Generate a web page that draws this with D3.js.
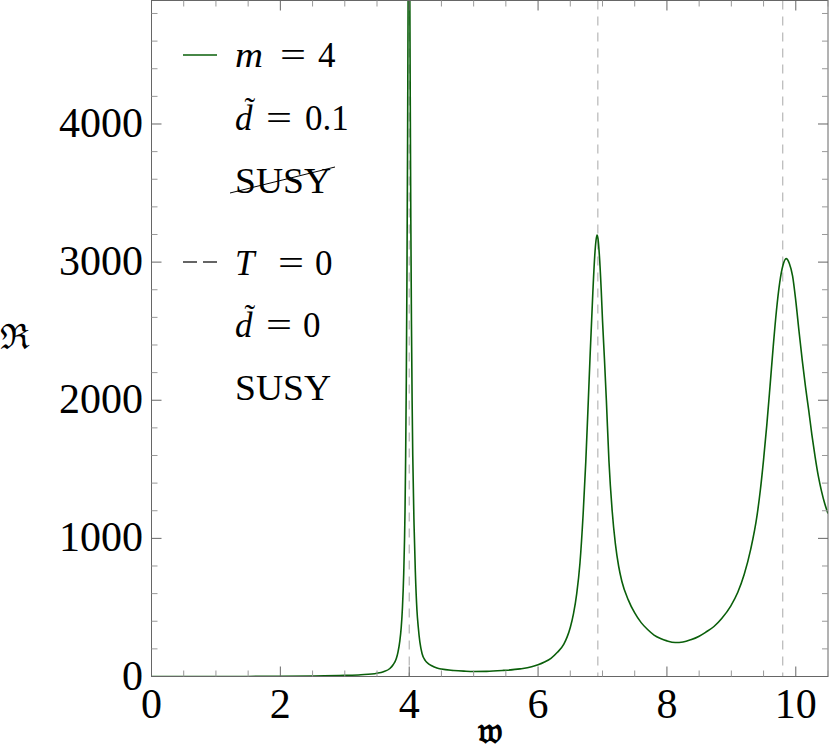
<!DOCTYPE html>
<html><head><meta charset="utf-8">
<script src="https://cdn.jsdelivr.net/npm/d3@7"></script>
<style>body{margin:0;background:#fff} svg{display:block}
.serif{font-family:"Liberation Serif","Times New Roman",serif;}
</style>
</head><body><svg id="c" width="830" height="752"></svg>
<script>
// ---- data ----
const wValues = [0,0.5,1.0,1.5,2.0,2.5,3.0,3.25,3.5,3.6,3.7,3.75,3.8,3.825,3.855,3.875,3.895,3.915,3.935,3.945,3.955,3.965,3.975,3.985,3.995,4.005,4.015,4.025,4.035,4.045,4.055,4.075,4.095,4.12,4.14,4.165,4.2,4.25,4.3,4.35,4.43,4.5,4.69,4.85,5.0,5.2,5.46,5.72,5.9,6.0,6.1,6.2,6.3,6.4,6.45,6.5,6.55,6.6,6.65,6.7,6.74,6.78,6.81,6.85,6.88,6.9,6.915,6.93,6.95,6.98,7.0,7.03,7.06,7.1,7.15,7.2,7.25,7.3,7.4,7.5,7.6,7.7,7.8,7.9,8.0,8.13,8.25,8.37,8.5,8.6,8.73,8.85,8.99,9.1,9.2,9.3,9.4,9.45,9.5,9.55,9.6,9.65,9.7,9.75,9.8,9.85,9.9,9.95,10.0,10.05,10.1,10.15,10.2,10.25,10.3,10.35,10.4,10.45,10.5];
const rValues = [0,0,0,0.5,1,3,8,13,24,35,58,85,130,175,260,350,500,750,1200,1600,2150,2900,3900,5200,6300,5400,4300,3300,2550,2000,1600,1100,760,480,360,250,165,115,92,78,62,54,44,39,36,37,44,55,70,85,105,132,175,235,285,355,455,600,820,1180,1550,2000,2350,2780,3050,3160,3196,3170,3060,2800,2580,2300,2000,1560,1200,960,800,690,555,460,390,340,300,275,258,246,250,266,292,320,362,420,510,610,740,920,1170,1350,1570,1820,2100,2390,2650,2850,2975,3025,2990,2900,2720,2500,2290,2100,1930,1750,1590,1450,1340,1250,1180];
const markerW = [4.0, 6.928, 9.798];           // T=0, d=0 SUSY masses
const xTickValues = [0, 2, 4, 6, 8, 10];
const yTickValues = [0, 1000, 2000, 3000, 4000];
const xDomain = [0, 10.5];
const yDomain = [0, 4894];

// ---- layout ----
const svg = d3.select('#c');
const L = 151.5, R = 828, T = 0.5, B = 676.5;
const x = d3.scaleLinear().domain(xDomain).range([L, R]);
const y = d3.scaleLinear().domain(yDomain).range([B, T]);
const frameCol = '#666';
const green = '#0a5f0a';

svg.append('defs').append('clipPath').attr('id','clip')
  .append('rect').attr('x', L).attr('y', T).attr('width', R - L).attr('height', B - T);

// vertical dashed markers
svg.append('g').selectAll('line').data(markerW).join('line')
  .attr('x1', d => x(d)).attr('x2', d => x(d)).attr('y1', T).attr('y2', B)
  .attr('stroke', '#a8a8a8').attr('stroke-width', 1).attr('stroke-dasharray', '9,7');

// curve
const pts = wValues.map((w, i) => [w, rValues[i]]);
svg.append('path').datum(pts)
  .attr('clip-path', 'url(#clip)')
  .attr('fill', 'none').attr('stroke', green).attr('stroke-width', 1.6)
  .attr('d', d3.line().x(d => x(d[0])).y(d => y(d[1])).curve(d3.curveMonotoneX));

// frame
svg.append('rect').attr('x', L).attr('y', T).attr('width', R - L).attr('height', B - T)
  .attr('fill', 'none').attr('stroke', frameCol).attr('stroke-width', 1);

// ticks
const xMinor = d3.range(0, 10.51, 0.5).filter(v => !xTickValues.includes(v));
const yMinor = d3.range(0, 4801, 200).filter(v => !yTickValues.includes(v));
const tg = svg.append('g');
function xt(vals, len, col) {
  vals.forEach(v => {
    tg.append('line').attr('x1', x(v)).attr('x2', x(v)).attr('y1', B).attr('y2', B - len).attr('stroke', col);
    tg.append('line').attr('x1', x(v)).attr('x2', x(v)).attr('y1', T).attr('y2', T + len).attr('stroke', col);
  });
}
function yt(vals, len, col) {
  vals.forEach(v => {
    tg.append('line').attr('y1', y(v)).attr('y2', y(v)).attr('x1', L).attr('x2', L + len).attr('stroke', col);
    tg.append('line').attr('y1', y(v)).attr('y2', y(v)).attr('x1', R).attr('x2', R - len).attr('stroke', col);
  });
}
xt(xTickValues, 10, frameCol); xt(xMinor, 6, '#999');
yt(yTickValues, 10, frameCol); yt(yMinor, 6, '#999');

// tick labels
svg.append('g').selectAll('text').data(xTickValues).join('text')
  .attr('class', 'serif')
  .attr('x', d => x(d)).attr('y', 718).attr('text-anchor', 'middle')
  .attr('font-size', 42).text(d => d);
svg.append('g').selectAll('text').data(yTickValues).join('text')
  .attr('class', 'serif')
  .attr('x', 143).attr('y', d => y(d) + 13).attr('text-anchor', 'end')
  .attr('font-size', 42).text(d => d);

// axis labels (fraktur glyphs)
svg.append('text').attr('class', 'serif').attr('x', 490).attr('y', 743).attr('text-anchor', 'middle')
  .attr('font-size', 36).attr('font-weight', 'bold').text('𝔴');
svg.append('text').attr('class', 'serif').attr('x', 15).attr('y', 349).attr('text-anchor', 'middle')
  .attr('font-size', 35).text('ℜ');

// legend
const lg = svg.append('g').attr('class', 'serif').attr('font-size', 35).attr('fill', '#000');
lg.append('line').attr('x1', 183).attr('x2', 217).attr('y1', 55).attr('y2', 55).attr('stroke', green).attr('stroke-width', 1.6);
lg.append('line').attr('x1', 183).attr('x2', 217).attr('y1', 262).attr('y2', 262).attr('stroke', '#333').attr('stroke-width', 1.3).attr('stroke-dasharray', '14,6');

function eqLine(yb, sym, symW, eqX, val, valX, tilde) {
  const t = lg.append('text').attr('x', 235).attr('y', yb);
  t.append('tspan').attr('font-style', 'italic').text(sym);
  if (symW) t.attr('textLength', symW).attr('lengthAdjust', 'spacingAndGlyphs');
  if (tilde) t.append('tspan').attr('dx', -8).attr('dy', -11).attr('font-size', 32).text('˜');
  lg.append('text').attr('x', eqX).attr('y', yb).attr('textLength', 26).attr('lengthAdjust', 'spacingAndGlyphs').text('=');
  lg.append('text').attr('x', valX).attr('y', yb).text(val);
}
eqLine(67, 'm', 28, 280, '4', 318, false);
eqLine(130, 'd', 0, 266, '0.1', 305, true);
lg.append('text').attr('x', 235).attr('y', 193).attr('textLength', 96).attr('lengthAdjust', 'spacingAndGlyphs').text('SUSY');
lg.append('line').attr('x1', 230).attr('y1', 193).attr('x2', 335).attr('y2', 167).attr('stroke', '#000').attr('stroke-width', 1);
eqLine(275, 'T', 0, 278, '0', 315, false);
eqLine(337, 'd', 0, 266, '0', 303, true);
lg.append('text').attr('x', 235).attr('y', 400).attr('textLength', 96).attr('lengthAdjust', 'spacingAndGlyphs').text('SUSY');
</script></body></html>
